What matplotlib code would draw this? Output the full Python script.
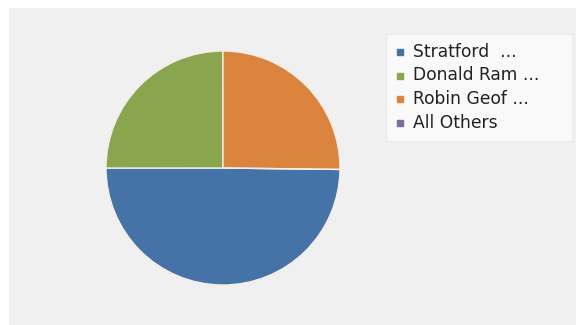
import matplotlib
matplotlib.use("Agg")
import matplotlib.pyplot as plt
from matplotlib.patches import Rectangle
from matplotlib.lines import Line2D

labels = ["Stratford  ...", "Donald Ram ...", "Robin Geof ...", "All Others"]
values = [49.8, 25.0, 25.2, 0.0]
colors = ["#4572A7", "#89A54E", "#DB843D", "#80699B"]

W, H = 576, 325
fig = plt.figure(figsize=(W / 100, H / 100), dpi=100, facecolor="white")

# grey panel behind the chart
fig.patches.append(Rectangle((9 / W, 0), 1 - 9 / W, 1 - 8 / H,
                             transform=fig.transFigure, facecolor="#f0f0f0",
                             edgecolor="none", zorder=-10))

# pie area: centre (223, 168), radius ~117 px
cx, cy, r = 223, 168, 117
ax = fig.add_axes([(cx - r) / W, 1 - (cy + r) / H, 2 * r / W, 2 * r / H])
ax.set_zorder(5)
ax.set_facecolor("none")
ax.pie(values, colors=colors, startangle=-0.7, counterclock=False, radius=1.0,
       wedgeprops=dict(edgecolor="#f4efe6", linewidth=1.0))
ax.set_xlim(-1.0, 1.0)
ax.set_ylim(-1.0, 1.0)
ax.set_aspect("equal")
ax.axis("off")

# legend panel
fig.patches.append(Rectangle((386 / W, 1 - 141 / H), (572 - 386) / W, (141 - 34) / H,
                             transform=fig.transFigure, facecolor="#f9f9f9",
                             edgecolor="#ebebeb", linewidth=0.8, zorder=1))

ys = [52, 75.5, 99, 122.5]
for lab, col, y in zip(labels, colors, ys):
    fig.lines.append(Line2D([400 / W], [1 - y / H], marker="s", markersize=4.5,
                            color=col, linestyle="none", transform=fig.transFigure,
                            zorder=2))
    fig.text(413 / W, 1 - y / H, lab, fontsize=12.3, color="#222222",
             family="DejaVu Sans", va="center", ha="left", zorder=3)

fig.savefig("out.png", dpi=100, facecolor="white")
